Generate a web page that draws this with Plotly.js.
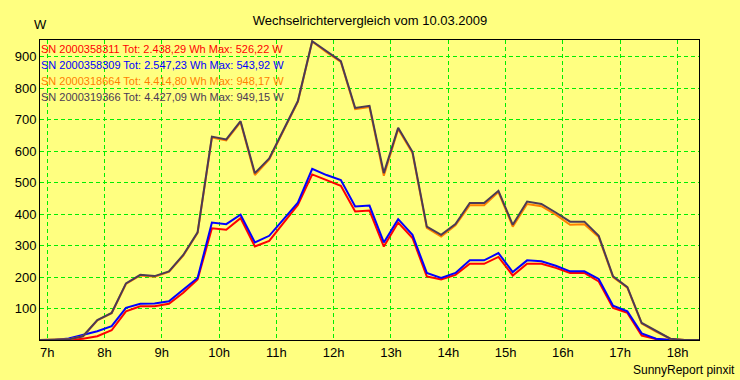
<!DOCTYPE html>
<html>
<head>
<meta charset="utf-8">
<script src="https://cdn.plot.ly/plotly-3.0.1.min.js"></script>
<style>html,body{margin:0;padding:0;background:#ffff80;}#chart{width:740px;height:380px;}</style>
</head>
<body>
<div id="chart"></div>
<script>
// Time of each sample, decimal hours (15-minute averages)
var times = [6.875, 7.125, 7.375, 7.625, 7.875, 8.125, 8.375, 8.625, 8.875, 9.125,
  9.375, 9.625, 9.875, 10.125, 10.375, 10.625, 10.875, 11.125, 11.375, 11.625,
  11.875, 12.125, 12.375, 12.625, 12.875, 13.125, 13.375, 13.625, 13.875, 14.125,
  14.375, 14.625, 14.875, 15.125, 15.375, 15.625, 15.875, 16.125, 16.375, 16.625,
  16.875, 17.125, 17.375, 17.625, 17.875, 18.125, 18.375];

var sn311 = [0, 0, 0, 4, 12, 31, 91, 107, 107, 115, 150, 192, 355, 350, 387, 297, 315, 372, 429, 526,
  508, 490, 408, 411, 297, 373, 324, 202, 192, 207, 242, 242, 264, 205, 242, 242, 229, 213, 213, 186,
  102, 86, 14, 3, 0, 0, 0];
var sn309 = [0, 0, 5, 17, 28, 44, 102, 115, 116, 123, 160, 197, 373, 368, 398, 310, 331, 384, 436, 544,
  524, 508, 424, 427, 310, 384, 334, 213, 197, 213, 253, 253, 276, 216, 253, 250, 236, 218, 218, 194,
  109, 91, 21, 4, 0, 0, 0];
var sn664 = [0, 0, 2, 12, 62, 85, 178, 205, 201, 216, 268, 340, 643, 634, 692, 524, 574, 665, 756, 948,
  914, 883, 733, 740, 522, 670, 594, 356, 329, 364, 428, 428, 470, 360, 432, 425, 398, 366, 368, 327,
  200, 166, 52, 27, 4, 0, 0];
var sn366 = [0, 0, 2, 12, 63, 86, 180, 207, 203, 218, 270, 342, 646, 637, 695, 530, 577, 668, 759, 949,
  917, 886, 737, 744, 530, 674, 598, 360, 334, 368, 435, 435, 474, 366, 440, 432, 405, 376, 376, 331,
  202, 168, 54, 28, 4, 0, 0];

var legendTexts = [
  "SN 2000358311 Tot: 2.438,29 Wh Max: 526,22 W",
  "SN 2000358309 Tot: 2.547,23 Wh Max: 543,92 W",
  "SN 2000318664 Tot: 4.414,80 Wh Max: 948,17 W",
  "SN 2000319366 Tot: 4.427,09 Wh Max: 949,15 W"
];
var xTickVals = [7, 8, 9, 10, 11, 12, 13, 14, 15, 16, 17, 18];
var xTickText = ["7h", "8h", "9h", "10h", "11h", "12h", "13h", "14h", "15h", "16h", "17h", "18h"];
var yTickVals = [100, 200, 300, 400, 500, 600, 700, 800, 900];

var colors = ["#ff0000", "#0000ff", "#ff8000", "#4b3a55"];
var series = [sn311, sn309, sn664, sn366];

var font = "Liberation Sans, Arial, sans-serif";
var traces = series.map(function (s, i) {
  return {x: times, y: s, type: "scatter", mode: "lines",
    line: {color: colors[i], width: 2}, hoverinfo: "skip", showlegend: false};
});

var ann = legendTexts.map(function (t, i) {
  return {text: t, xref: "paper", yref: "paper", x: 0, xshift: -1,
    y: [0.97, 0.9167, 0.8633, 0.81][i], xanchor: "left", yanchor: "middle",
    showarrow: false, font: {family: font, size: 11, color: colors[i]}};
});
ann.push({text: "W", xref: "paper", yref: "paper", x: 0, y: 1.05, xanchor: "center",
  yanchor: "middle", showarrow: false, font: {family: font, size: 13, color: "#000"}});
ann.push({text: "SunnyReport pinxit", xref: "paper", yref: "paper", x: 1.0577, y: -0.1,
  xanchor: "right", yanchor: "middle", showarrow: false, font: {family: font, size: 12, color: "#000"}});

var layout = {
  width: 740, height: 380,
  margin: {l: 40, r: 41, t: 40, b: 40, pad: 0},
  paper_bgcolor: "#ffff80", plot_bgcolor: "#ffff80",
  title: {text: "Wechselrichtervergleich vom 10.03.2009", xref: "container", x: 0.5,
    y: 1 - 20 / 380, yanchor: "middle", font: {family: font, size: 13, color: "#000"}},
  xaxis: {range: [6.875, 18.375], tickvals: xTickVals, ticktext: xTickText,
    showgrid: true, gridcolor: "#00ee00", griddash: "4px,3px", gridwidth: 1,
    zeroline: false, showline: true, linecolor: "#000", linewidth: 1, mirror: true,
    ticks: "", tickfont: {family: font, size: 13, color: "#000"}, fixedrange: true},
  yaxis: {range: [0, 953], tickvals: yTickVals,
    showgrid: true, gridcolor: "#00ee00", griddash: "4px,3px", gridwidth: 1,
    zeroline: false, showline: true, linecolor: "#000", linewidth: 1, mirror: true,
    ticks: "", tickfont: {family: font, size: 13, color: "#000"}, fixedrange: true},
  annotations: ann,
  showlegend: false
};

Plotly.newPlot("chart", traces, layout, {staticPlot: true, displayModeBar: false});
</script>
</body>
</html>
